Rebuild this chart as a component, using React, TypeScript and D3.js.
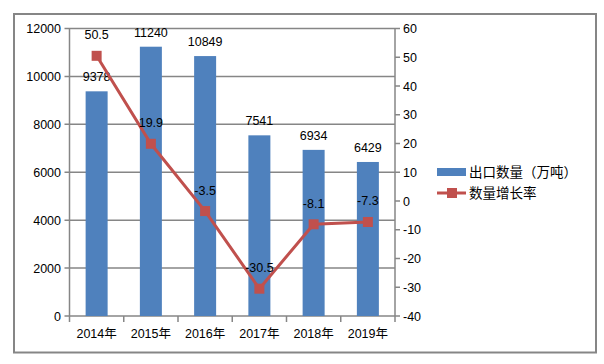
import React from 'react';
import * as d3 from 'd3';

const years = ['2014年', '2015年', '2016年', '2017年', '2018年', '2019年'];
const exportQty = [9378, 11240, 10849, 7541, 6934, 6429];
const growthRate = [50.5, 19.9, -3.5, -30.5, -8.1, -7.3];
const leftTicks = [0, 2000, 4000, 6000, 8000, 10000, 12000];
const rightTicks = [-40, -30, -20, -10, 0, 10, 20, 30, 40, 50, 60];
const seriesNames = ['出口数量（万吨）', '数量增长率'];

const W = 604;
const H = 364;
const plot = { left: 69.5, right: 395, top: 28.5, bottom: 316 };
const blue = '#4F81BD';
const red = '#C0504D';
const gray = '#868686';
const font = '"Liberation Sans", "Noto Sans CJK SC", sans-serif';

export default function App() {
  const band = d3.scaleBand().domain(years).range([plot.left, plot.right]);
  const yL = d3.scaleLinear().domain([0, 12000]).range([plot.bottom, plot.top]);
  const yR = d3.scaleLinear().domain([-40, 60]).range([plot.bottom, plot.top]);
  const cx = (d: string) => band(d)! + band.bandwidth() / 2;
  const line = d3
    .line<number>()
    .x((_, i) => cx(years[i]))
    .y((d) => yR(d));

  const bw = 22;

  return (
    <svg
      width={W}
      height={H}
      style={{ position: 'absolute', left: 0, top: 0, background: '#fff' }}
      fontFamily={font}
    >
      <rect x={0} y={0} width={W} height={H} fill="#fff" />
      <rect x={14} y={14} width={582} height={338.5} fill="none" stroke={gray} strokeWidth={2} />

      {/* gridlines + left axis */}
      {leftTicks.map((t) => (
        <g key={t}>
          <line x1={plot.left - 5} x2={plot.right} y1={yL(t)} y2={yL(t)} stroke={gray} strokeWidth={1.5} />
          <text x={61} y={yL(t)} dy="0.36em" textAnchor="end" fontSize={12.5} fill="#000">
            {t}
          </text>
        </g>
      ))}
      <line x1={plot.left} x2={plot.left} y1={plot.top} y2={plot.bottom} stroke={gray} strokeWidth={1.5} />

      {/* right axis */}
      <line x1={plot.right} x2={plot.right} y1={plot.top} y2={plot.bottom + 6} stroke={gray} strokeWidth={1.5} />
      {rightTicks.map((t) => (
        <g key={t}>
          <line x1={plot.right} x2={plot.right + 5} y1={yR(t)} y2={yR(t)} stroke={gray} strokeWidth={1.5} />
          <text x={403} y={yR(t)} dy="0.36em" textAnchor="start" fontSize={12.5} fill="#000">
            {t}
          </text>
        </g>
      ))}

      {/* x axis ticks */}
      {years.map((d) => (
        <line key={d} x1={band(d)} x2={band(d)} y1={plot.bottom} y2={plot.bottom + 6} stroke={gray} strokeWidth={1.5} />
      ))}

      {/* bars */}
      {exportQty.map((v, i) => (
        <rect key={i} x={cx(years[i]) - bw / 2} y={yL(v)} width={bw} height={yL(0) - yL(v)} fill={blue} />
      ))}
      {exportQty.map((v, i) => (
        <text key={i} x={cx(years[i])} y={yL(v) - 10} textAnchor="middle" fontSize={12.5} fill="#000">
          {v}
        </text>
      ))}

      {/* x labels */}
      {years.map((d) => (
        <text key={d} x={cx(d)} y={333} dy="0.36em" textAnchor="middle" fontSize={12.5} fill="#000">
          {d}
        </text>
      ))}

      {/* growth line */}
      <path d={line(growthRate)!} fill="none" stroke={red} strokeWidth={3} />
      {growthRate.map((v, i) => (
        <rect key={i} x={cx(years[i]) - 5} y={yR(v) - 5} width={10} height={10} fill={red} />
      ))}
      {growthRate.map((v, i) => (
        <text key={i} x={cx(years[i])} y={yR(v) - 16.5} textAnchor="middle" fontSize={12.5} fill="#000">
          {v}
        </text>
      ))}

      {/* legend */}
      <rect x={437} y={168} width={29} height={8} fill={blue} />
      <text x={469} y={172} dy="0.36em" fontSize={13.5} fill="#000">
        {seriesNames[0]}
      </text>
      <line x1={437} x2={466} y1={193} y2={193} stroke={red} strokeWidth={3} />
      <rect x={447} y={188} width={10} height={10} fill={red} />
      <text x={469} y={193} dy="0.36em" fontSize={13.5} fill="#000">
        {seriesNames[1]}
      </text>
    </svg>
  );
}
